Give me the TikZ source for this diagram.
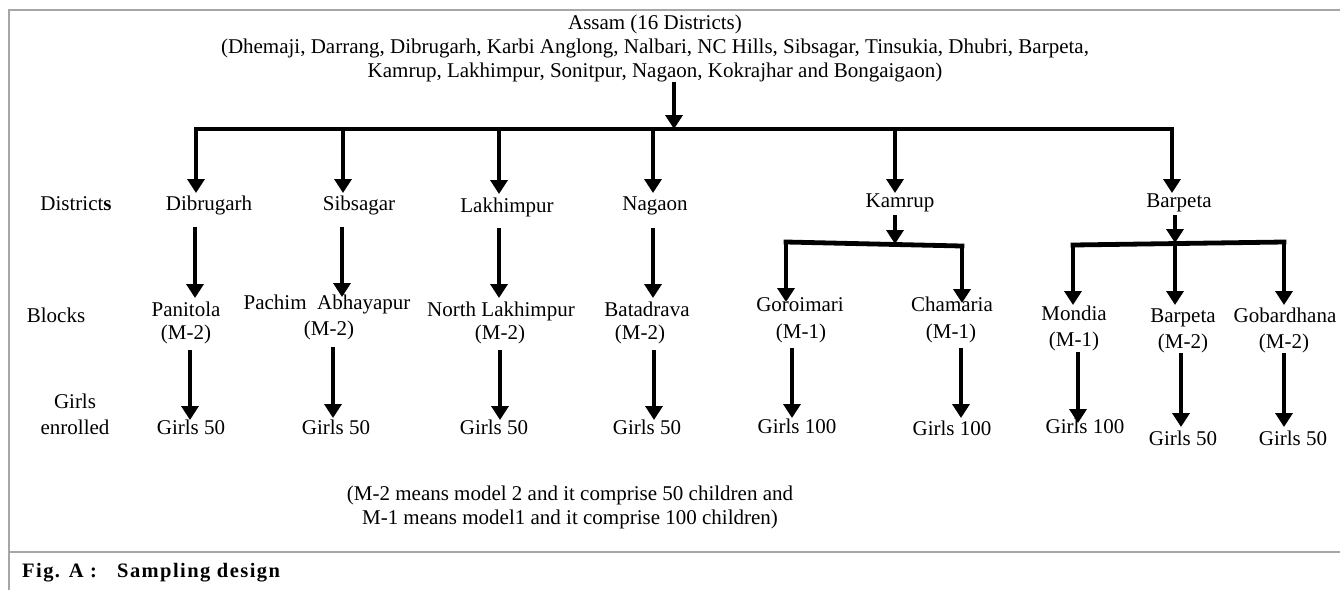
\documentclass[tikz,border=0pt]{standalone}
\usepackage{fontspec}
\setmainfont{Liberation Serif}
\newfontfamily\capfont{Liberation Serif}[LetterSpace=7]
\usetikzlibrary{arrows.meta}
\begin{document}
\begin{tikzpicture}[x=1pt,y=-1pt,
  lbl/.style={inner sep=0pt, outer sep=0pt, anchor=base, font=\fontsize{21}{24}\selectfont},
  arr/.style={line width=4.8pt, -{Triangle[width=17pt,length=14pt]}},
  barline/.style={line width=4.8pt, line cap=rect},
  frameline/.style={line width=1.6pt, draw=gray!70},
  captext/.style={inner sep=0pt, anchor=base west, font=\capfont\bfseries\fontsize{20.5}{23}\selectfont}]
\useasboundingbox (0,0) rectangle (1340,590);
% frame
\draw[frameline] (1340,10) -- (9,10) -- (9,590);
\draw[frameline] (9,552) -- (1340,552);
% top
\node[lbl, anchor=south, align=center] (top) at (655,82)
  {Assam (16 Districts)\\(Dhemaji, Darrang, Dibrugarh, Karbi Anglong, Nalbari, NC Hills, Sibsagar, Tinsukia, Dhubri, Barpeta,\\Kamrup, Lakhimpur, Sonitpur, Nagaon, Kokrajhar and Bongaigaon)};
\coordinate (j0) at (674,129);
\coordinate (bL) at (196,129);
\coordinate (bR) at (1172,129);
% row labels
\node[lbl] (rowD) at (76,210) {District\textbf{s}};
\node[lbl] (rowB) at (56,322) {Blocks};
\node[lbl] (rowG1) at (75,408) {Girls};
\node[lbl] (rowG2) at (75,434) {enrolled};
% districts
\node[lbl, text height=17pt, text depth=17pt] (d1) at (209,210) {Dibrugarh};
\node[lbl, text height=17pt, text depth=17pt] (d2) at (359,210) {Sibsagar};
\node[lbl, text height=18pt, text depth=16pt] (d3) at (507,212) {Lakhimpur};
\node[lbl, text height=17pt, text depth=18pt] (d4) at (655,210) {Nagaon};
\node[lbl, text height=14pt, text depth=8pt] (d5) at (900,207) {Kamrup};
\node[lbl, text height=14pt, text depth=8pt] (d6) at (1179,207) {Barpeta};
% blocks
\node[lbl, text height=18pt] (b1) at (186,316) {Panitola};
\node[lbl, text depth=11pt] (b1m) at (186,339) {(M-2)};
\node[lbl, text height=12pt] (b2) at (327,309) {Pachim\ \ Abhayapur};
\node[lbl, text depth=12pt] (b2m) at (329,335) {(M-2)};
\node[lbl, text height=18pt] (b3) at (501,316) {North Lakhimpur};
\node[lbl, text depth=11pt] (b3m) at (500,339) {(M-2)};
\node[lbl, text height=18pt] (b4) at (647,316) {Batadrava};
\node[lbl, text depth=11pt] (b4m) at (640,339) {(M-2)};
\node[lbl, text height=9pt] (b5) at (800,311) {Goroimari};
\node[lbl, text depth=10pt] (b5m) at (801,338) {(M-1)};
\node[lbl, text height=8pt] (b6) at (952,311) {Chamaria};
\node[lbl, text depth=10pt] (b6m) at (951,338) {(M-1)};
\node[lbl, text height=15pt] (b7) at (1074,320) {Mondia};
\node[lbl, text depth=6pt] (b7m) at (1074,346) {(M-1)};
\node[lbl, text height=17pt] (b8) at (1183,322) {Barpeta};
\node[lbl, text depth=5pt] (b8m) at (1183,348) {(M-2)};
\node[lbl, text height=17pt] (b9) at (1285,322) {Gobardhana};
\node[lbl, text depth=5pt] (b9m) at (1284,348) {(M-2)};
% girls
\node[lbl, text height=14pt] (g1) at (191,434) {Girls 50};
\node[lbl, text height=16pt] (g2) at (336,434) {Girls 50};
\node[lbl, text height=14pt] (g3) at (494,434) {Girls 50};
\node[lbl, text height=14pt] (g4) at (647,434) {Girls 50};
\node[lbl, text height=15pt] (g5) at (797,433) {Girls 100};
\node[lbl, text height=17pt] (g6) at (952,435) {Girls 100};
\node[lbl, text height=10pt] (g7) at (1085,433) {Girls 100};
\node[lbl, text height=18pt] (g8) at (1183,445) {Girls 50};
\node[lbl, text height=18pt] (g9) at (1293,445) {Girls 50};
% note and caption
\node[lbl, align=center, anchor=north] (note) at (570,486)
  {(M-2 means model 2 and it comprise 50 children and\\M-1 means model1 and it comprise 100 children)};
\node[captext] (cap1) at (22,577) {Fig. A :};
\node[captext] (cap2) at (117,577) {Sampling design};
% main tree
\draw[arr] (top.south -| j0) -- (j0);
\draw[barline] (bL) -- (bR);
\draw[arr] (bL) -- (d1.north -| bL);
\draw[arr] (bL -| 343,0) -- (d2.north -| 343,0);
\draw[arr] (bL -| 499,0) -- (d3.north -| 499,0);
\draw[arr] (bL -| 653,0) -- (d4.north -| 653,0);
\draw[arr] (bL -| 895,0) -- (d5.north -| 895,0);
\draw[arr] (bR) -- (d6.north -| bR);
% districts to blocks
\draw[arr] (d1.south -| 195,0) -- (b1.north -| 195,0);
\draw[arr] (d2.south -| 342,0) -- (b2.north -| 342,0);
\draw[arr] (d3.south -| 499,0) -- (b3.north -| 499,0);
\draw[arr] (d4.south -| 653,0) -- (b4.north -| 653,0);
% Kamrup split
\coordinate (k0) at (895,244);
\coordinate (kL) at (786,242);
\coordinate (kR) at (962,246);
\draw[arr] (d5.south -| k0) -- (k0);
\draw[barline] (kL) -- (kR);
\draw[arr] (kL) -- (b5.north -| kL);
\draw[arr] (kR) -- (b6.north -| kR);
% Barpeta split
\coordinate (p0) at (1175,243);
\coordinate (pL) at (1073,245);
\coordinate (pR) at (1284,242);
\draw[arr] (d6.south -| p0) -- (p0);
\draw[barline] (pL) -- (pR);
\draw[arr] (pL) -- (b7.north -| pL);
\draw[arr] (p0) -- (b8.north -| p0);
\draw[arr] (pR) -- (b9.north -| pR);
% blocks to girls
\draw[arr] (b1m.south -| 190,0) -- (g1.north -| 190,0);
\draw[arr] (b2m.south -| 333,0) -- (g2.north -| 333,0);
\draw[arr] (b3m.south -| 500,0) -- (g3.north -| 500,0);
\draw[arr] (b4m.south -| 654,0) -- (g4.north -| 654,0);
\draw[arr] (b5m.south -| 792,0) -- (g5.north -| 792,0);
\draw[arr] (b6m.south -| 961,0) -- (g6.north -| 961,0);
\draw[arr] (b7m.south -| 1078,0) -- (g7.north -| 1078,0);
\draw[arr] (b8m.south -| 1181,0) -- (g8.north -| 1181,0);
\draw[arr] (b9m.south -| 1284,0) -- (g9.north -| 1284,0);
\end{tikzpicture}
\end{document}
